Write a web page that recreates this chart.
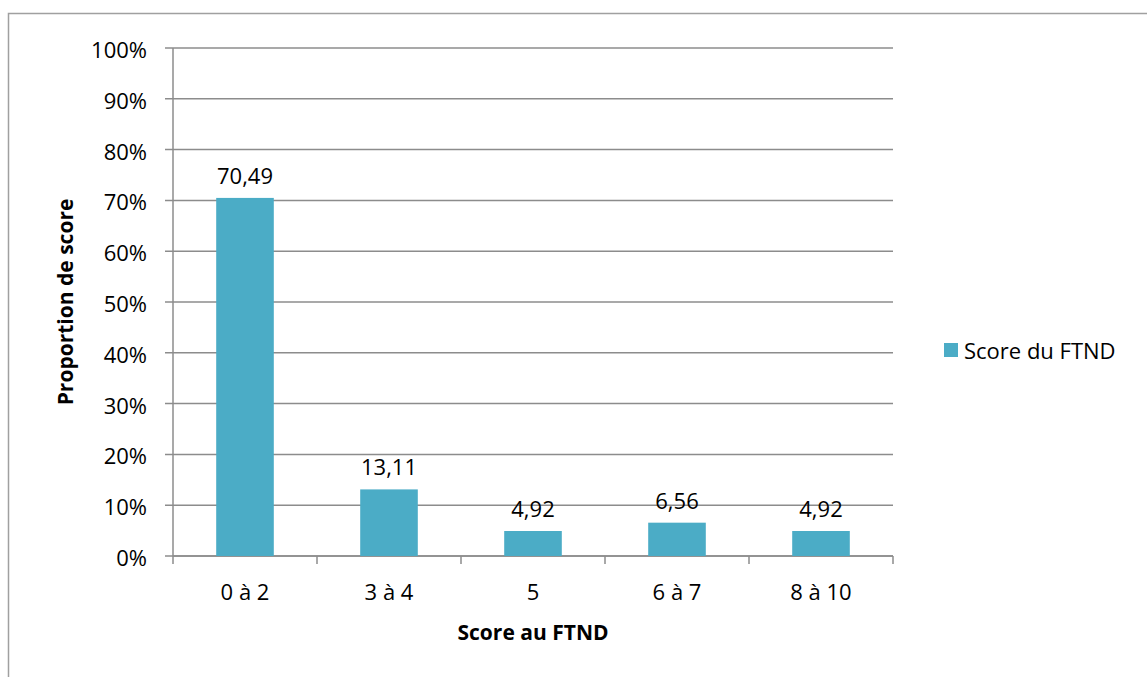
<!DOCTYPE html>
<html>
<head>
<meta charset="utf-8">
<script src="https://cdn.jsdelivr.net/npm/d3@7"></script>
<style>
  body { margin: 0; background: #fff; }
  text { font-family: "Open Sans", "Noto Sans", sans-serif; fill: #000; }
</style>
</head>
<body>
<div class="svgContainer"></div>
<script>
let categories = ["0 à 2", "3 à 4", "5", "6 à 7", "8 à 10"],
  values = [70.49, 13.11, 4.92, 6.56, 4.92],
  yTicks = [0, 10, 20, 30, 40, 50, 60, 70, 80, 90, 100],
  seriesName = "Score du FTND";

let width = 1147,
  height = 677,
  plotLeft = 173,
  plotRight = 893,
  plotTop = 48,
  plotBottom = 556,
  barColor = "#4BACC6",
  gridColor = "#8c8c8c",
  fontSize = "22px";

let svg = d3
  .select(".svgContainer")
  .append("svg")
  .attr("width", width)
  .attr("height", height);

// chart frame (cut by the picture on the right and bottom)
svg
  .append("rect")
  .attr("x", 8.5)
  .attr("y", 13.5)
  .attr("width", 1200)
  .attr("height", 700)
  .attr("fill", "none")
  .attr("stroke", "#a0a0a0")
  .attr("stroke-width", 1.5);

let xScale = d3
  .scaleBand()
  .domain(categories)
  .range([plotLeft, plotRight])
  .paddingInner(0.6)
  .paddingOuter(0.3);

let yScale = d3
  .scaleLinear()
  .domain([0, 100])
  .range([plotBottom, plotTop]);

// gridlines
svg
  .append("g")
  .selectAll("line")
  .data(yTicks)
  .enter()
  .append("line")
  .attr("x1", plotLeft - 8)
  .attr("x2", plotRight)
  .attr("y1", d => yScale(d))
  .attr("y2", d => yScale(d))
  .attr("stroke", gridColor)
  .attr("stroke-width", 1.5);

// y axis line
svg
  .append("line")
  .attr("x1", plotLeft)
  .attr("x2", plotLeft)
  .attr("y1", plotTop)
  .attr("y2", plotBottom)
  .attr("stroke", gridColor)
  .attr("stroke-width", 1.5);

// y tick labels
svg
  .append("g")
  .selectAll("text")
  .data(yTicks)
  .enter()
  .append("text")
  .attr("x", plotLeft - 26)
  .attr("y", d => yScale(d) + 10)
  .attr("text-anchor", "end")
  .style("font-size", fontSize)
  .text(d => d + "%");

// x axis with ticks at category boundaries
let step = xScale.step();
let bounds = d3.range(categories.length + 1).map(i => plotLeft + i * step);
svg
  .append("g")
  .selectAll("line")
  .data(bounds)
  .enter()
  .append("line")
  .attr("x1", d => d)
  .attr("x2", d => d)
  .attr("y1", plotBottom)
  .attr("y2", plotBottom + 8)
  .attr("stroke", gridColor)
  .attr("stroke-width", 1.5);

svg
  .append("line")
  .attr("x1", plotLeft)
  .attr("x2", plotRight)
  .attr("y1", plotBottom)
  .attr("y2", plotBottom)
  .attr("stroke", gridColor)
  .attr("stroke-width", 1.5);

// bars
svg
  .append("g")
  .selectAll("rect")
  .data(values)
  .enter()
  .append("rect")
  .attr("x", (d, i) => xScale(categories[i]))
  .attr("y", d => yScale(d))
  .attr("width", xScale.bandwidth())
  .attr("height", d => plotBottom - yScale(d))
  .style("fill", barColor);

// data labels
svg
  .append("g")
  .selectAll("text")
  .data(values)
  .enter()
  .append("text")
  .attr("x", (d, i) => xScale(categories[i]) + xScale.bandwidth() / 2)
  .attr("y", d => yScale(d) - 14)
  .attr("text-anchor", "middle")
  .style("font-size", fontSize)
  .text(d => d.toFixed(2).replace(".", ","));

// category labels
svg
  .append("g")
  .selectAll("text")
  .data(categories)
  .enter()
  .append("text")
  .attr("x", d => xScale(d) + xScale.bandwidth() / 2)
  .attr("y", 600)
  .attr("text-anchor", "middle")
  .style("font-size", fontSize)
  .text(d => d);

// axis titles
svg
  .append("text")
  .attr("x", (plotLeft + plotRight) / 2)
  .attr("y", 640)
  .attr("text-anchor", "middle")
  .style("font-size", "21px")
  .style("font-weight", "bold")
  .text("Score au FTND");

svg
  .append("text")
  .attr("transform", "rotate(-90)")
  .attr("x", -(plotTop + plotBottom) / 2)
  .attr("y", 73)
  .attr("text-anchor", "middle")
  .style("font-size", "21px")
  .style("font-weight", "bold")
  .text("Proportion de score");

// legend
svg
  .append("rect")
  .attr("x", 944)
  .attr("y", 343)
  .attr("width", 14)
  .attr("height", 14)
  .style("fill", barColor);

svg
  .append("text")
  .attr("x", 964)
  .attr("y", 359)
  .style("font-size", fontSize)
  .text(seriesName);
</script>
</body>
</html>
